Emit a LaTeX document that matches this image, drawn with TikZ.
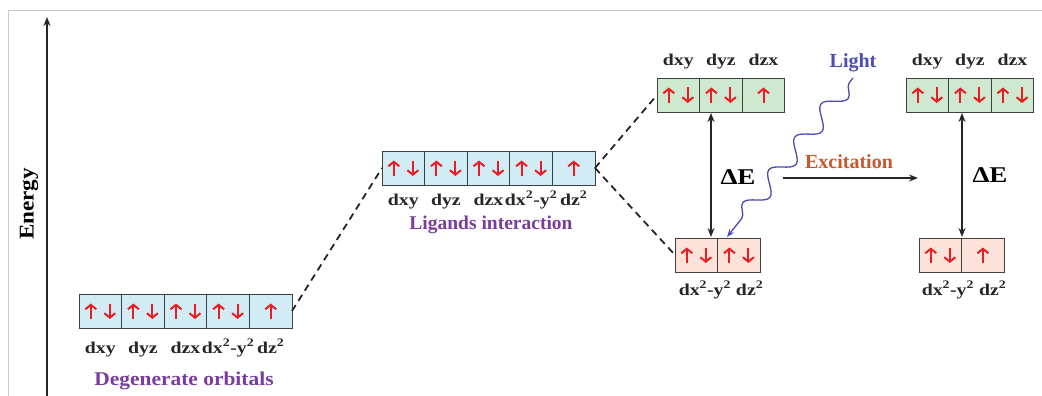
\documentclass[tikz,border=0pt]{standalone}
\usepackage{fontspec}
\setmainfont{Liberation Serif}
\newfontfamily\widefont[FakeStretch=1.2]{Liberation Serif}
\newfontfamily\semiwide[FakeStretch=1.1]{Liberation Serif}
\newfontfamily\dewide[FakeStretch=1.2]{Liberation Serif}
\usetikzlibrary{arrows.meta,decorations.pathmorphing}
\definecolor{cblue}{HTML}{D2ECF6}
\definecolor{cgreen}{HTML}{CFE8D0}
\definecolor{cpink}{HTML}{FCE3DA}
\definecolor{cred}{HTML}{EC1C24}
\definecolor{cpurple}{HTML}{7A3C9E}
\definecolor{corange}{HTML}{C8582E}
\definecolor{clight}{HTML}{4C4CB4}
\definecolor{cframe}{HTML}{C8C8C8}
\begin{document}
\begin{tikzpicture}[x=1pt,y=-1pt,
  cell/.style={draw=black!75, line width=0.9pt, minimum width=42.6pt, minimum height=34pt,
    inner sep=0pt, outer sep=0pt},
  bcell/.style={cell, fill=cblue},
  gcell/.style={cell, fill=cgreen},
  pcell/.style={cell, fill=cpink},
  spin/.style={cred, line width=2pt, -{Straight Barb[length=4.5pt,width=11pt]}},
  lbl/.style={font=\widefont\bfseries\fontsize{16.5}{17}\selectfont, text=black!85, inner sep=0pt, anchor=base},
  title/.style={text=cpurple, inner sep=0pt, anchor=base},
  dashln/.style={line width=1.8pt, dash pattern=on 7pt off 5pt, black!85},
  blk/.style={line width=1.8pt, black!85},
  tip/.style={-{Stealth[length=9pt,width=7pt]}},
  dtip/.style={{Stealth[length=9pt,width=7pt]}-{Stealth[length=9pt,width=7pt]}}
]
\useasboundingbox (0,0) rectangle (1042,396);
% frame
\draw[cframe, line width=0.8pt] (8,396) -- (8,10) -- (1042,10);
% energy axis
\coordinate (ebot) at (47,396);
\coordinate (etop) at (47,17);
\draw[blk, tip] (ebot) -- (etop);
\node[font=\semiwide\bfseries\fontsize{21}{21}\selectfont, rotate=90, inner sep=0pt] (energy) at (29,204) {Energy};

% degenerate orbitals
\foreach \i/\x in {1/100.3,2/142.9,3/185.5,4/228.1,5/270.7}
  \node[bcell] (d\i) at (\x,311) {};
\foreach \i/\x/\t in {1/100.3/dxy,2/142.9/dyz,3/185.5/dzx,4/228.1/dx\textsuperscript{2}-y\textsuperscript{2},5/270.7/dz\textsuperscript{2}}
  \node[lbl] (dl\i) at (\x,353) {\t};
\node[title, font=\semiwide\bfseries\fontsize{19.5}{20}\selectfont] (dtitle) at (184,385) {Degenerate orbitals};

% ligand interaction
\foreach \i/\x in {1/403.3,2/445.9,3/488.5,4/531.1,5/573.7}
  \node[bcell] (l\i) at (\x,168) {};
\foreach \i/\x/\t in {1/403.3/dxy,2/445.9/dyz,3/488.5/dzx,4/531.1/dx\textsuperscript{2}-y\textsuperscript{2},5/573.7/dz\textsuperscript{2}}
  \node[lbl] (ll\i) at (\x,205) {\t};
\node[title, font=\bfseries\fontsize{19.5}{20}\selectfont] (ltitle) at (491,229) {Ligands interaction};

% split, ground state
\foreach \i/\x in {1/678.3,2/720.9,3/763.5}
  \node[gcell] (g\i) at (\x,95) {};
\foreach \i/\x/\t in {1/678.3/dxy,2/720.9/dyz,3/763.5/dzx}
  \node[lbl] (gl\i) at (\x,66) {\t};
\foreach \i/\x in {1/696.3,2/738.9}
  \node[pcell] (p\i) at (\x,255) {};
\node[lbl] (pl) at (721,295) {dx\textsuperscript{2}-y\textsuperscript{2} dz\textsuperscript{2}};

% split, excited state
\foreach \i/\x in {1/927.3,2/969.9,3/1012.5}
  \node[gcell] (h\i) at (\x,95) {};
\foreach \i/\x/\t in {1/927.3/dxy,2/969.9/dyz,3/1012.5/dzx}
  \node[lbl] (hl\i) at (\x,66) {\t};
\foreach \i/\x in {1/940.3,2/982.9}
  \node[pcell] (q\i) at (\x,255) {};
\node[lbl] (ql) at (964,295) {dx\textsuperscript{2}-y\textsuperscript{2} dz\textsuperscript{2}};

% electron spins
\foreach \n in {d1,d2,d3,d4,l1,l2,l3,l4,g1,g2,p1,p2,h1,h2,h3,q1}{
  \draw[spin] ([xshift=-9.5pt,yshift=-8pt]\n.center) -- ([xshift=-9.5pt,yshift=7.5pt]\n.center);
  \draw[spin] ([xshift=9.5pt,yshift=7.5pt]\n.center) -- ([xshift=9.5pt,yshift=-8pt]\n.center);
}
\foreach \n in {d5,l5,g3,q2}
  \draw[spin] ([yshift=-8pt]\n.center) -- ([yshift=7.5pt]\n.center);

% dashed correlation lines
\draw[dashln] (d5.east) -- (l1.west);
\draw[dashln] (l5.east) -- (g1.west);
\draw[dashln] (l5.east) -- (p1.west);

% delta E arrows
\coordinate (a1top) at (711,113);
\coordinate (a1bot) at (711,237);
\draw[blk, dtip] (a1top) -- (a1bot);
\node[font=\dewide\bfseries\fontsize{22.5}{23}\selectfont, inner sep=0pt, anchor=base] (de1) at (738,184) {ΔE};
\coordinate (a2top) at (962,113);
\coordinate (a2bot) at (962,237);
\draw[blk, dtip] (a2top) -- (a2bot);
\node[font=\dewide\bfseries\fontsize{22.5}{23}\selectfont, inner sep=0pt, anchor=base] (de2) at (990,182) {ΔE};

% excitation
\coordinate (exa) at (783,178);
\coordinate (exb) at (918,178);
\draw[line width=1.4pt, black!85, tip] (exa) -- (exb);
\node[font=\bfseries\fontsize{20}{20}\selectfont, text=corange, inner sep=0pt, anchor=base] (exc) at (849,168) {Excitation};

% light
\node[font=\bfseries\fontsize{20}{20}\selectfont, text=clight, inner sep=0pt, anchor=base] (light) at (853,68) {Light};
\coordinate (lstart) at (853,78);
\coordinate (lend) at (727,237);
\draw[clight, line width=1.3pt, -{Stealth[length=8pt,width=6pt]},
  decorate, decoration={snake, amplitude=9pt, segment length=42pt, pre length=6pt, post length=14pt}]
  (lstart) -- (lend);
\end{tikzpicture}
\end{document}
